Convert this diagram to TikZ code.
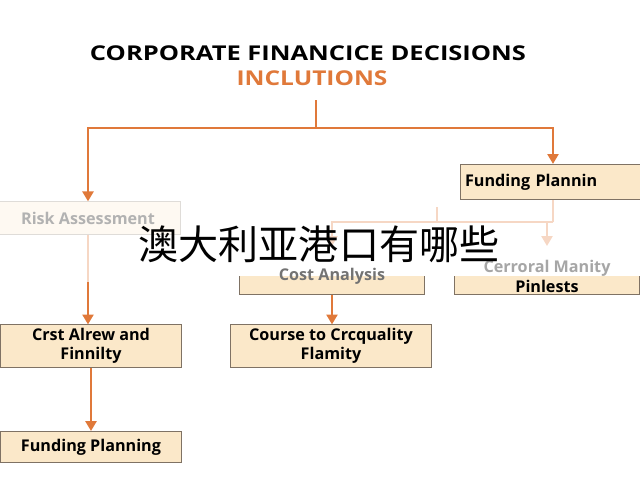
\documentclass[tikz,border=0pt]{standalone}
\usepackage{fontspec}
\setmainfont{Open Sans}
\newfontfamily\cjk{Noto Sans CJK SC}
\usetikzlibrary{positioning,arrows.meta}
\definecolor{flow}{HTML}{E0793A}
\definecolor{boxfill}{HTML}{FBE8C9}
\definecolor{boxline}{HTML}{7F7264}
\begin{document}
\begin{tikzpicture}[
    x=0.025cm, y=-0.025cm,
    font=\bfseries\fontsize{11.5}{13.5}\selectfont,
    >={Triangle[length=7pt,width=8pt]},
    % Styles
    box/.style={% For the tan boxes
        rectangle,
        draw=boxline,
        fill=boxfill,
        line width=0.8pt,
        align=center,
        inner sep=1pt,
        },
    faded/.style={% For the washed-out boxes
        box,
        draw=boxline!25,
        fill=boxfill!25,
        text=black!30,
        },
    link/.style={% Orange connectors
        draw=flow,
        line width=1.2pt,
        },
    pale/.style={% Washed-out connectors
        link,
        draw=flow!30,
        },
    ]
    \useasboundingbox (0,0) rectangle (640,480);

    % Title
    \node [font=\bfseries\fontsize{14.5}{16}\selectfont, xscale=1.25] (title) at (308,53) {CORPORATE FINANCICE DECISIONS};
    \node [font=\bfseries\fontsize{14.5}{16}\selectfont, xscale=1.2, text=flow] (sub) at (312,78) {INCLUTIONS};

    % Boxes
    \node [box, minimum width=131pt, minimum height=25pt, text width=125pt, align=left] (fund1) at (553,182) {Funding Plannin};
    \node [faded, minimum width=132pt, minimum height=23pt] (risk) at (88,218) {Risk Assessment};
    \node [box, minimum width=129pt, minimum height=30pt] (crst) at (91,346) {Crst Alrew and\\Finnilty};
    \node [box, minimum width=129pt, minimum height=22pt] (fund2) at (91,447) {Funding Planning};
    \node [box, minimum width=131pt, minimum height=26pt] (cost) at (332,276) {};
    \fill [white] (cost.north west) rectangle (cost.east);
    \node [text=black!55] at (cost) {Cost Analysis};
    \node [box, minimum width=131pt, minimum height=26pt] (cerr) at (547,276) {};
    \fill [white] (cerr.north west) rectangle (cerr.east);
    \node [text=black!35] at (547,268) {Cerroral Manity};
    \node at (547,286) {Pinlests};
    \node [box, minimum width=143pt, minimum height=30pt] (course) at (331,346) {Course to Crcquality\\Flamity};

    % Connectors
    \coordinate (top) at (316,100);
    \coordinate (split) at (316,128);
    \coordinate (mid) at (88,282);
    \draw [link] (top) -- (split);
    \draw [->, link] (split) -| (risk.north);
    \draw [->, link] (split) -| (fund1.north);
    \draw [pale] (risk.south) -- (mid);
    \draw [->, link] (mid) -- (mid |- crst.north);
    \draw [->, link] (crst) -- (fund2);

    \coordinate (fork) at (553,222);
    \coordinate (tick) at (437,207);
    \draw [pale] (fund1.south) -- (fork);
    \draw [->, pale, shorten >=8pt] (fork) -| (cost.north);
    \draw [->, pale, shorten >=8pt] (fork) -| (cerr.north);
    \draw [pale] (tick) -- (tick |- fork);
    \draw [->, link] (cost.south) -- (cost.south |- course.north);

    % Overlay text
    \node [font=\cjk\fontsize{28.5}{31}\selectfont] (overlay) at (319,244) {澳大利亚港口有哪些};
\end{tikzpicture}
\end{document}
